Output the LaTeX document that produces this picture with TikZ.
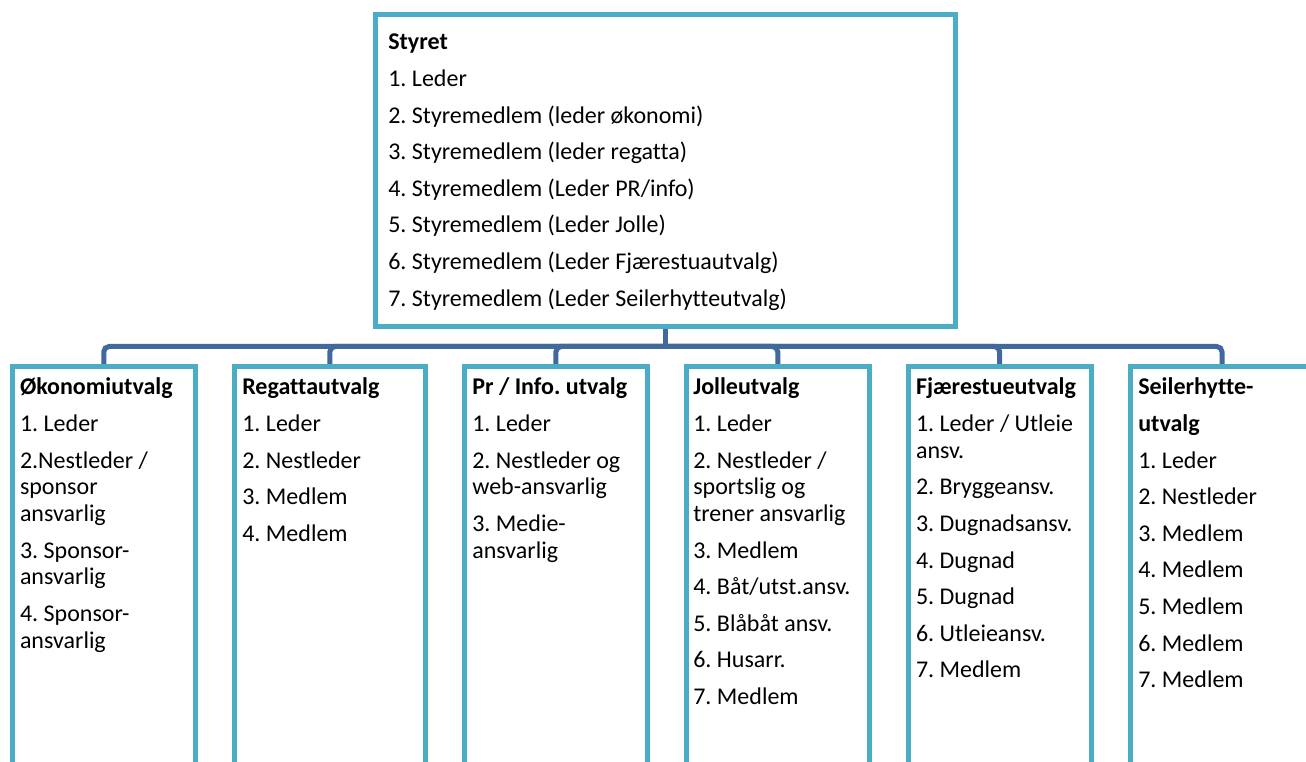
\documentclass[tikz,border=0pt]{standalone}
\usepackage{fontspec}
\setmainfont{Carlito}[Ligatures=NoCommon]
\definecolor{boxc}{HTML}{4BACC6}
\definecolor{connc}{HTML}{41699B}
\newcommand{\boxlines}[1]{\parbox[t]{300pt}{\fontsize{18pt}{20pt}\selectfont\frenchspacing\raggedright #1}}
\newcommand{\nextpar}{\\[7.45pt]}
\begin{document}
\begin{tikzpicture}[x=0.75pt,y=-0.75pt,
  box/.style={draw=boxc, line width=3.75pt, fill=white, rectangle, inner sep=0pt},
  conn/.style={draw=connc, line width=3.75pt},
  txt/.style={anchor=base west, inner sep=0pt, outer sep=0pt}]
\useasboundingbox (0,0) rectangle (1306,762);
\clip (0,0) rectangle (1306,762);
\fill[white] (0,0) rectangle (1306,762);

% boxes
\node[box, minimum width=579.5*0.75pt, minimum height=312*0.75pt] (top) at (665.25,171) {};
\node[box, minimum width=182.5*0.75pt, minimum height=450*0.75pt] (c1) at (103.75,591.5) {};
\node[box, minimum width=190.3*0.75pt, minimum height=450*0.75pt] (c2) at (329.85,591.5) {};
\node[box, minimum width=183.2*0.75pt, minimum height=450*0.75pt] (c3) at (555.9,591.5) {};
\node[box, minimum width=183*0.75pt, minimum height=450*0.75pt] (c4) at (777.75,591.5) {};
\node[box, minimum width=182.7*0.75pt, minimum height=450*0.75pt] (c5) at (999.65,591.5) {};
\node[box, minimum width=182.7*0.75pt, minimum height=450*0.75pt] (c6) at (1222,591.5) {};

% connectors
\coordinate (bus) at (665.25,346.5);
\draw[conn] (top.south) -- (bus);
\foreach \c in {c1,c2,c3,c4,c5,c6}
  \draw[conn, rounded corners=4] (bus) -| (\c.north);

% texts
\node[txt] (t0) at (388.3,50) {\boxlines{\textbf{Styret}\nextpar
1. Leder\nextpar
2. Styremedlem (leder økonomi)\nextpar
3. Styremedlem (leder regatta)\nextpar
4. Styremedlem (Leder PR/info)\nextpar
5. Styremedlem (Leder Jolle)\nextpar
6. Styremedlem (Leder Fjærestuautvalg)\nextpar
7. Styremedlem (Leder Seilerhytteutvalg)}};

\node[txt] (t1) at (20,395) {\boxlines{\textbf{Økonomiutvalg}\nextpar
1. Leder\nextpar
2.Nestleder /\\ sponsor\\ ansvarlig\nextpar
3. Sponsor-\\ ansvarlig\nextpar
4. Sponsor-\\ ansvarlig}};

\node[txt] (t2) at (242.3,395) {\boxlines{\textbf{Regattautvalg}\nextpar
1. Leder\nextpar
2. Nestleder\nextpar
3. Medlem\nextpar
4. Medlem}};

\node[txt] (t3) at (472.3,395) {\boxlines{\textbf{Pr / Info. utvalg}\nextpar
1. Leder\nextpar
2. Nestleder og\\ web-ansvarlig\nextpar
3. Medie-\\ ansvarlig}};

\node[txt] (t4) at (693.3,395) {\boxlines{\textbf{Jolleutvalg}\nextpar
1. Leder\nextpar
2. Nestleder /\\ sportslig og\\ trener ansvarlig\nextpar
3. Medlem\nextpar
4. Båt/utst.ansv.\nextpar
5. Blåbåt ansv.\nextpar
6. Husarr.\nextpar
7. Medlem}};

\node[txt] (t5) at (916,395) {\boxlines{\textbf{Fjærestueutvalg}\nextpar
1. Leder / Utleie\\ ansv.\nextpar
2. Bryggeansv.\nextpar
3. Dugnadsansv.\nextpar
4. Dugnad\nextpar
5. Dugnad\nextpar
6. Utleieansv.\nextpar
7. Medlem}};

\node[txt] (t6) at (1138.3,395) {\boxlines{\textbf{Seilerhytte-}\nextpar
\textbf{utvalg}\nextpar
1. Leder\nextpar
2. Nestleder\nextpar
3. Medlem\nextpar
4. Medlem\nextpar
5. Medlem\nextpar
6. Medlem\nextpar
7. Medlem}};
\end{tikzpicture}
\end{document}
